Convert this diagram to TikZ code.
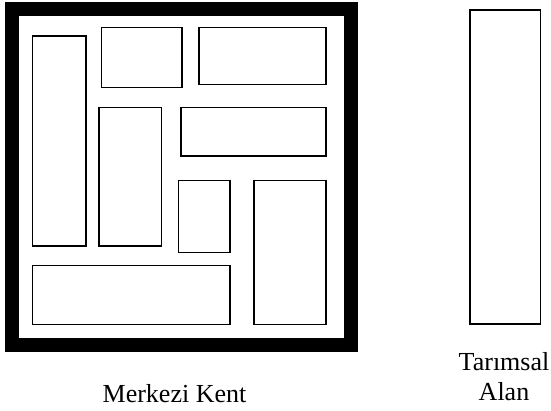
\documentclass[tikz,border=0pt]{standalone}
\usepackage{fontspec}
\setmainfont{Liberation Serif}
\definecolor{FrameClr}{RGB}{0,0,0}
\tikzset{
  block/.style={draw=black,line width=1.3pt,fill=white},
  label/.style={font=\fontsize{26}{30}\selectfont,inner sep=0pt,align=center}
}

\begin{document}
\begin{tikzpicture}[x=1pt,y=-1pt]
\useasboundingbox (0,0) rectangle (551,410);

% kent siniri
\draw[FrameClr,line width=14pt] (12,8.5) rectangle (351,344.5);

% yapi adalari
\foreach \xa/\ya/\xb/\yb in {32.3/36/86/246,101.7/27.7/182/87.7,199/27.7/326/84.3,
  99/107.7/161.7/246,181/107.7/326/156,178.3/180.3/230/252.3,
  254/180.3/326/324.3,32.3/265.3/230/324.3}
  \draw[block] (\xa,\ya) rectangle (\xb,\yb);

% tarimsal alan
\draw[block] (470,10) rectangle (540.7,324);

\node[label,anchor=base] (kent) at (174.5,402) {Merkezi Kent};
\node[label,anchor=base] (tarim) at (504,400) {Tarımsal\\Alan};

\end{tikzpicture}
\end{document}
